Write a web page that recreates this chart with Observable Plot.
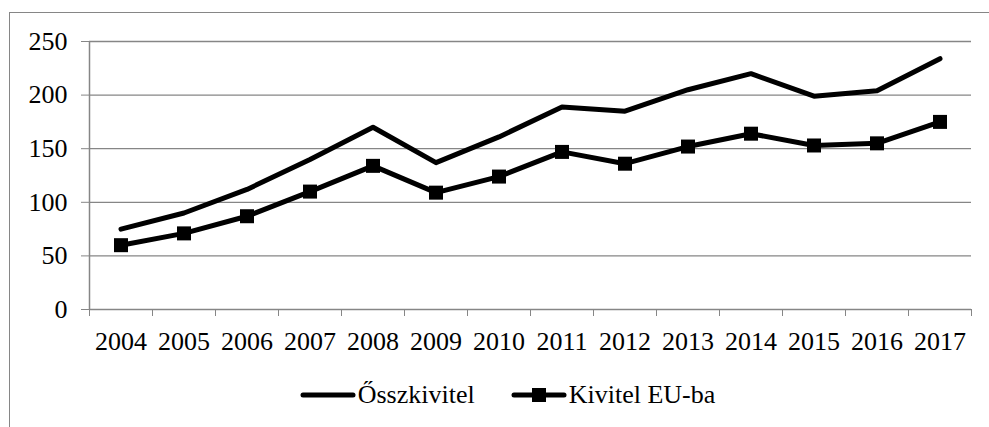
<!DOCTYPE html>
<html>
<head>
<meta charset="utf-8">
<script src="https://cdn.jsdelivr.net/npm/d3@7"></script>
<script src="https://cdn.jsdelivr.net/npm/@observablehq/plot@0.6"></script>
<style>
  html, body { margin: 0; padding: 0; background: white; overflow: hidden; width: 989px; height: 427px; }
  #chart { position: absolute; left: 0; top: 0; }
  #border { position: absolute; left: 9px; top: 12px; width: 1000px; height: 500px;
            border-left: 1.5px solid #868686; border-top: 1.5px solid #868686; pointer-events: none; }
  #legend { position: absolute; left: 9px; top: 382px; width: 997px; display: flex; justify-content: center;
            gap: 36px; font-family: 'Liberation Serif', serif; font-size: 26px; line-height: 26px; color: black; }
  .item { display: flex; align-items: center; }
  .item span { margin-left: 2px; }
</style>
</head>
<body>
<div id="chart"></div>
<div id="border"></div>
<div id="legend"></div>
<script>
const years = [2004, 2005, 2006, 2007, 2008, 2009, 2010, 2011, 2012, 2013, 2014, 2015, 2016, 2017];
const osszkivitel = [75, 90, 112, 140, 170, 137, 161, 189, 185, 205, 220, 199, 204, 234];
const kivitelEU = [60, 71, 87, 110, 134, 109, 124, 147, 136, 152, 164, 153, 155, 175];
const yTicks = [0, 50, 100, 150, 200, 250];
const seriesNames = ["\u0150sszkivitel", "Kivitel EU-ba"];

const data1 = years.map((y, i) => ({year: y, value: osszkivitel[i]}));
const data2 = years.map((y, i) => ({year: y, value: kivitelEU[i]}));
const xDomain = [years[0] - 0.5, years[years.length - 1] + 0.5];
const boundaries = years.map(y => y - 0.5).concat([years[years.length - 1] + 0.5]);
const gray = "#868686";
const font = "'Liberation Serif', serif";

const chart = Plot.plot({
  width: 989,
  height: 365,
  marginLeft: 89,
  marginRight: 18,
  marginTop: 41,
  marginBottom: 56,
  style: {fontFamily: font, fontSize: "26px", color: "black", background: "transparent"},
  x: {type: "linear", domain: xDomain},
  y: {domain: [0, 250]},
  marks: [
    Plot.gridY(yTicks, {stroke: gray, strokeOpacity: 1, strokeWidth: 1.3}),
    Plot.ruleX([xDomain[0]], {stroke: gray, strokeWidth: 1.5}),
    Plot.axisY({ticks: yTicks, tickSize: 8, tickPadding: 14, stroke: gray, fill: "black", fontSize: 26, fontFamily: font, label: null}),
    Plot.axisX({ticks: boundaries, tickSize: 7, tickFormat: () => "", stroke: gray, label: null}),
    Plot.axisX({ticks: years, tickSize: 0, tickPadding: 22, tickFormat: d => String(d), fill: "black", fontSize: 26, fontFamily: font, label: null}),
    Plot.line(data1, {x: "year", y: "value", stroke: "black", strokeWidth: 5, strokeLinecap: "round", strokeLinejoin: "round"}),
    Plot.line(data2, {x: "year", y: "value", stroke: "black", strokeWidth: 5, strokeLinecap: "round", strokeLinejoin: "round"}),
    Plot.dot(data2, {x: "year", y: "value", symbol: "square", r: 7.9, fill: "black", stroke: "none"})
  ]
});
document.getElementById("chart").appendChild(chart);

const legend = document.getElementById("legend");
seriesNames.forEach((name, i) => {
  const item = document.createElement("div");
  item.className = "item";
  const marker = i === 1 ? '<rect x="21" y="6" width="14" height="14" fill="black"/>' : "";
  item.innerHTML = '<svg width="56" height="26"><line x1="3" y1="13" x2="53" y2="13" stroke="black" stroke-width="5" stroke-linecap="round"/>' + marker + '</svg><span>' + name + '</span>';
  legend.appendChild(item);
});
</script>
</body>
</html>
